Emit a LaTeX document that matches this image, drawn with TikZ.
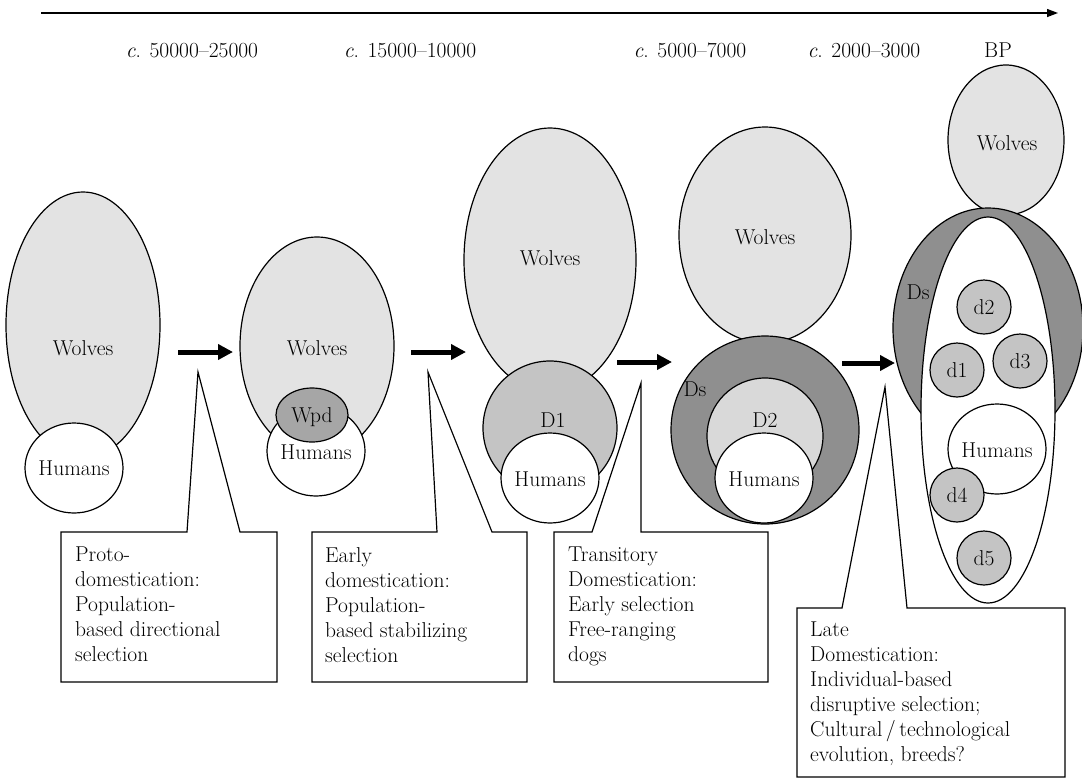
\documentclass[tikz,border=0pt]{standalone}
\usepackage{fontspec}
\usetikzlibrary{arrows.meta}
\definecolor{wolfc}{gray}{0.89}
\definecolor{dmid}{gray}{0.77}
\definecolor{wpdc}{gray}{0.65}
\definecolor{dsc}{gray}{0.56}
\definecolor{dtwo}{gray}{0.85}
\begin{document}
\begin{tikzpicture}[x=1pt,y=-1pt,
  font=\fontsize{21.5}{25}\selectfont,
  outl/.style={draw=black,line width=1.2pt},
  lab/.style={inner sep=0pt,text height=14.5pt,text depth=0pt},
  boxtext/.style={inner sep=0pt,anchor=north west,align=left},
  bigarrow/.style={line width=5pt,-{Triangle[length=15pt,width=15pt]}},
  callout/.style={draw=black,line width=1.2pt,line join=miter}]
\useasboundingbox (0,0) rectangle (1082,780);
\fill[white] (0,0) rectangle (1082,780);

% timeline
\coordinate (tl0) at (41,13);
\coordinate (tl1) at (1058,13);
\draw[line width=1.3pt,-{Triangle[length=11pt,width=8pt]}] (tl0) -- (tl1);
\node[lab] (t1) at (192,50) {\textit{c}. 50000–25000};
\node[lab] (t2) at (410,50) {\textit{c}. 15000–10000};
\node[lab] (t3) at (690,50) {\textit{c}. 5000–7000};
\node[lab] (t4) at (864,50) {\textit{c}. 2000–3000};
\node[lab] (t5) at (998,50) {BP};

% stage 1
\draw[outl,fill=wolfc] (83,325) ellipse [x radius=77,y radius=133];
\draw[outl,fill=white] (74,468) ellipse [x radius=49,y radius=45];
\node[lab] (w1) at (83,348) {Wolves};
\node[lab] (h1) at (74,468) {Humans};

% stage 2
\draw[outl,fill=wolfc] (317,346) ellipse [x radius=77,y radius=109];
\draw[outl,fill=white] (316,451) ellipse [x radius=49,y radius=45];
\draw[outl,fill=wpdc] (312,415) ellipse [x radius=36,y radius=27];
\node[lab] (w2) at (317,348) {Wolves};
\node[lab] (p2) at (312,415) {Wpd};
\node[lab] (h2) at (316,452) {Humans};

% stage 3
\draw[outl,fill=wolfc] (550,260) ellipse [x radius=86,y radius=132];
\draw[outl,fill=dmid] (550,428) circle [radius=67];
\draw[outl,fill=white] (550,478) ellipse [x radius=49,y radius=45];
\node[lab] (w3) at (550,258) {Wolves};
\node[lab] (d13) at (553,420) {D1};
\node[lab] (h3) at (550,479) {Humans};

% stage 4
\draw[outl,fill=wolfc] (765,235) ellipse [x radius=86,y radius=108];
\draw[outl,fill=dsc] (765,430) circle [radius=94];
\draw[outl,fill=dtwo] (765,436) circle [radius=58];
\draw[outl,fill=white] (764,478) ellipse [x radius=49,y radius=45];
\node[lab] (w4) at (765,237) {Wolves};
\node[lab] (s4) at (695,389) {Ds};
\node[lab] (d24) at (765,420) {D2};
\node[lab] (h4) at (764,479) {Humans};

% stage 5
\draw[outl,fill=wolfc] (1006,140) ellipse [x radius=58,y radius=75];
\draw[outl,fill=dsc] (988,328) ellipse [x radius=95,y radius=120];
\draw[outl,fill=white] (988,410) ellipse [x radius=67,y radius=193];
\draw[outl,fill=dmid] (984,307) circle [radius=27];
\draw[outl,fill=dmid] (957,370) circle [radius=27];
\draw[outl,fill=dmid] (1020,361) circle [radius=27];
\draw[outl,fill=white] (997,449) ellipse [x radius=49,y radius=45];
\draw[outl,fill=dmid] (957,495) circle [radius=27];
\draw[outl,fill=dmid] (984,558) circle [radius=27];
\node[lab] (w5) at (1007,143) {Wolves};
\node[lab] (s5) at (918,292) {Ds};
\node[lab] (e2) at (984,307) {d2};
\node[lab] (e1) at (957,370) {d1};
\node[lab] (e3) at (1020,361) {d3};
\node[lab] (h5) at (997,450) {Humans};
\node[lab] (e4) at (957,495) {d4};
\node[lab] (e5) at (984,558) {d5};

% thick arrows
\coordinate (a1s) at (178,352); \coordinate (a1e) at (233,352);
\coordinate (a2s) at (411,352); \coordinate (a2e) at (466,352);
\coordinate (a3s) at (617,362); \coordinate (a3e) at (672,362);
\coordinate (a4s) at (842,363); \coordinate (a4e) at (895,363);
\draw[bigarrow] (a1s) -- (a1e);
\draw[bigarrow] (a2s) -- (a2e);
\draw[bigarrow] (a3s) -- (a3e);
\draw[bigarrow] (a4s) -- (a4e);

% callouts
\draw[callout] (61,532) -- (187,532) -- (198,372) -- (240,532) -- (277,532) -- (277,682) -- (61,682) -- cycle;
\draw[callout] (312,532) -- (437,532) -- (428,372) -- (492,532) -- (527,532) -- (527,682) -- (312,682) -- cycle;
\draw[callout] (554,532) -- (592,532) -- (641,383) -- (641,532) -- (768,532) -- (768,682) -- (554,682) -- cycle;
\draw[callout] (797,608) -- (842,608) -- (885,387) -- (907,608) -- (1065,608) -- (1065,777) -- (797,777) -- cycle;

\node[boxtext] (b1) at (75,547) {Proto-\\domestication:\\Population-\\based directional\\selection};
\node[boxtext] (b2) at (325,547) {Early\\domestication:\\Population-\\based stabilizing\\selection};
\node[boxtext] (b3) at (568,547) {Transitory\\Domestication:\\Early selection\\Free-ranging\\dogs};
\node[boxtext] (b4) at (810,622) {Late\\Domestication:\\Individual-based\\disruptive selection;\\Cultural\,/\,technological\\evolution, breeds?};
\end{tikzpicture}
\end{document}
